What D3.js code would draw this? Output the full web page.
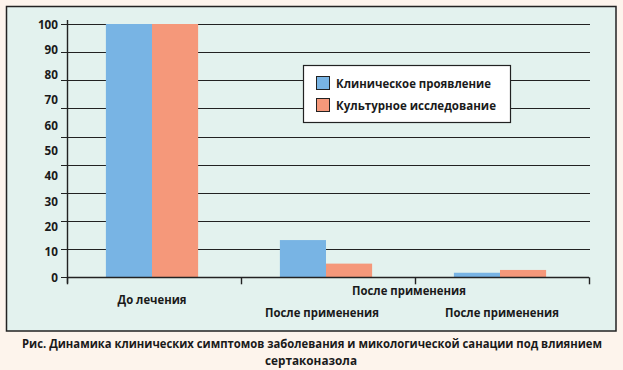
<!DOCTYPE html>
<html><head><meta charset="utf-8">
<script src="https://cdn.jsdelivr.net/npm/d3@7"></script>
<style>html,body{margin:0;padding:0;background:#fdf4ec;} svg{display:block;} text{font-family:"Open Sans",sans-serif;font-weight:700;fill:#1a1a1a;}</style>
</head><body>
<svg id="c" width="623" height="370"></svg>
<script>
const categories = ["До лечения", "После применения", "После применения "];
const seriesNames = ["Клиническое проявление", "Культурное исследование"];
const clinical = [100, 14.7, 1.8];
const culture  = [100, 5.4, 2.9];
const yTickLabels = [0, 10, 20, 30, 40, 50, 60, 70, 80, 90, 100];
const gridDivisions = 9;
const extraLabel = "После применения";
const caption = ["Рис. Динамика клинических симптомов заболевания и микологической санации под влиянием", "сертаконазола"];
const colors = ["#78b4e4", "#f5987a"];

const svg = d3.select("#c");
svg.append("rect").attr("x",6.5).attr("y",6.5).attr("width",609.5).attr("height",324.5)
  .attr("fill","#e3f2ee").attr("stroke","#222").attr("stroke-width",1.5);

const L = 67, R = 589, T = 24, B = 277.3;
const y = d3.scaleLinear().domain([0,100]).range([B, T]);
// bar groups sit ~2px left of the band centres in the reference
const x0 = d3.scaleBand().domain(categories).range([L-2, R-2]).paddingInner(0.47).paddingOuter(0.235);
const x1 = d3.scaleBand().domain(seriesNames).range([0, x0.bandwidth()]);

// gridlines (9 divisions as in the reference)
const gridVals = d3.range(gridDivisions+1).map(i => i*100/gridDivisions);
svg.append("g").selectAll("line").data(gridVals).join("line")
  .attr("x1", L-6).attr("x2", d => d===0 ? R : R+1).attr("y1", d=>Math.round(y(d))+0.5).attr("y2", d=>Math.round(y(d))+0.5)
  .attr("stroke","#222").attr("stroke-width",1.2);

// bars
const data = categories.map((c,i)=>({c, vals:[clinical[i], culture[i]]}));
svg.append("g").selectAll("g").data(data).join("g")
  .attr("transform", d=>`translate(${x0(d.c)},0)`)
  .selectAll("rect").data(d=>d.vals.map((v,j)=>({s:seriesNames[j], v, j}))).join("rect")
  .attr("x", d=>x1(d.s)).attr("width", x1.bandwidth())
  .attr("y", d=>y(d.v)).attr("height", d=>B - y(d.v)).attr("fill", d=>colors[d.j]);

// baseline above bars
svg.append("line").attr("x1",L).attr("x2",R).attr("y1",Math.round(B)+0.5).attr("y2",Math.round(B)+0.5).attr("stroke","#222").attr("stroke-width",1.4);
// y axis line
svg.append("line").attr("x1",L+0.5).attr("x2",L+0.5).attr("y1",20).attr("y2",B+6).attr("stroke","#222").attr("stroke-width",1.4);

// y labels
svg.append("g").selectAll("text").data(yTickLabels).join("text")
  .attr("x", 58).attr("y", d=>y(d)+4.5).attr("text-anchor","end").attr("font-size",12.5)
  .attr("textLength", d=> String(d).length*6.7).attr("lengthAdjust","spacingAndGlyphs")
  .text(d=>d);

// x ticks at band boundaries
const step = x0.step();
const tickXs = d3.range(categories.length+1).map(i => L + i*step);
svg.append("g").selectAll("line").data(tickXs).join("line")
  .attr("x1", d=>Math.round(d)+0.5).attr("x2", d=>Math.round(d)+0.5).attr("y1",B).attr("y2",B+7)
  .attr("stroke","#222").attr("stroke-width",1.4);

// category labels
const labelDx = [0, -4, 2];
const labelDy = [304, 317, 317];
const labelW = [69, 114, 114];
svg.append("g").selectAll("text").data(categories).join("text")
  .attr("x", (d,i)=>x0(d)+x0.bandwidth()/2+labelDx[i]).attr("y",(d,i)=>labelDy[i])
  .attr("text-anchor","middle").attr("font-size",12.5)
  .attr("textLength",(d,i)=>labelW[i]).attr("lengthAdjust","spacingAndGlyphs")
  .text(d=>d.trim());
svg.append("text").attr("x", tickXs[2]-6).attr("y",295).attr("text-anchor","middle").attr("font-size",12.5)
  .attr("textLength",114).attr("lengthAdjust","spacingAndGlyphs").text(extraLabel);

// legend
const lg = svg.append("g");
lg.append("rect").attr("x",303.5).attr("y",65.5).attr("width",207).attr("height",57).attr("fill","#fff").attr("stroke","#222").attr("stroke-width",1.2);
const legW = [155, 160];
seriesNames.forEach((s,i)=>{
  lg.append("rect").attr("x",316.5).attr("y",76.5+i*22).attr("width",13).attr("height",13).attr("fill",colors[i]).attr("stroke","#222").attr("stroke-width",1);
  lg.append("text").attr("x",336).attr("y",88+i*22).attr("font-size",12.5)
    .attr("textLength",legW[i]).attr("lengthAdjust","spacingAndGlyphs").text(s);
});

// caption
svg.append("text").attr("x",312).attr("y",348).attr("text-anchor","middle").attr("font-size",11.5)
  .attr("textLength",580).attr("lengthAdjust","spacingAndGlyphs").text(caption[0]);
svg.append("text").attr("x",311).attr("y",365).attr("text-anchor","middle").attr("font-size",11.5)
  .attr("textLength",92).attr("lengthAdjust","spacingAndGlyphs").text(caption[1]);
</script>
</body></html>
